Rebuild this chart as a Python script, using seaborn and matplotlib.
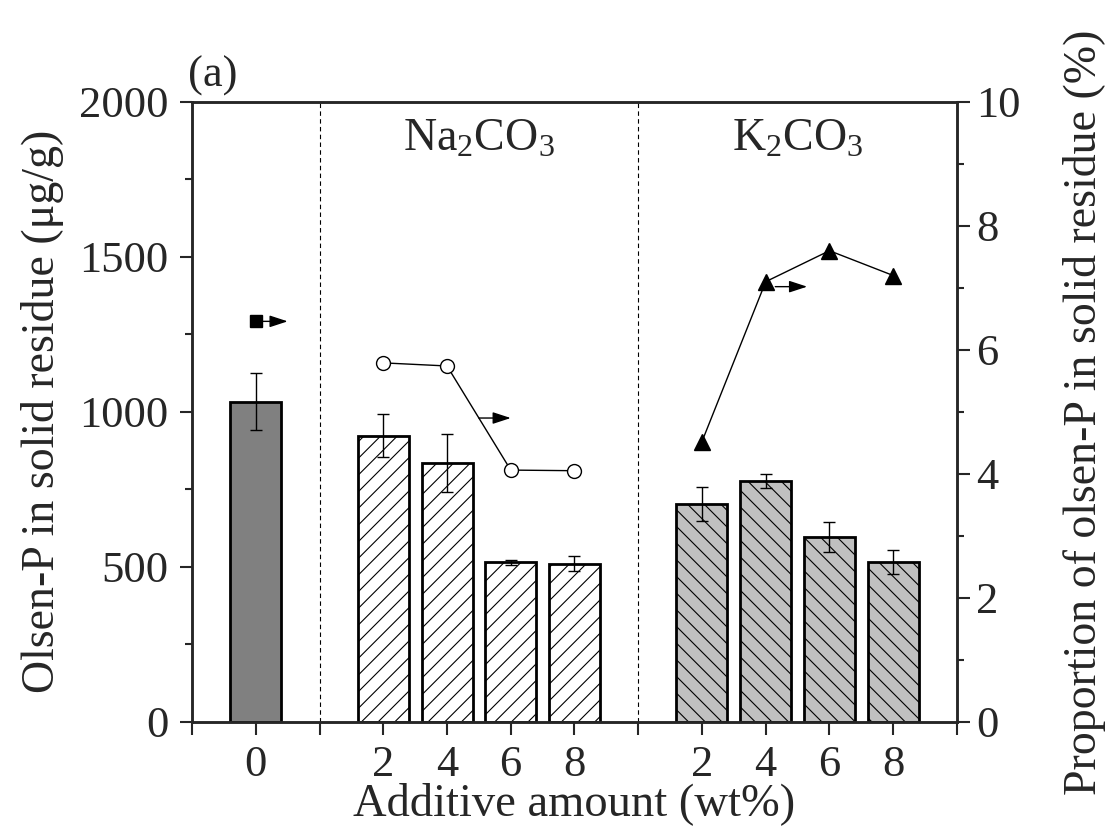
import numpy as np
import seaborn as sns
import matplotlib.pyplot as plt
from matplotlib.ticker import MultipleLocator

# data
ctrl_amount = ["0"]
ctrl_olsen = [1033]
ctrl_err = [93]
ctrl_prop = [6.46]

na_amount = ["2", "4", "6", "8"]
na_olsen = [923, 834, 514, 510]
na_err = [70, 93, 7, 25]
na_prop = [5.79, 5.74, 4.06, 4.05]

k_amount = ["2", "4", "6", "8"]
k_olsen = [704, 777, 596, 515]
k_err = [55, 22, 47, 39]
k_prop = [4.52, 7.10, 7.60, 7.20]

# group placement on the x axis
ctrl_x = np.array([1])
na_x = np.arange(3, 7)
k_x = np.arange(8, 12)

sns.set_style("ticks")
plt.rcParams['font.family'] = ['Liberation Serif', 'DejaVu Serif']
plt.rcParams['mathtext.fontset'] = 'custom'
plt.rcParams['mathtext.rm'] = 'Liberation Serif'
plt.rcParams['mathtext.it'] = 'Liberation Serif:italic'
plt.rcParams['hatch.linewidth'] = 0.8

fig, ax = plt.subplots(figsize=(11.05, 8.38), dpi=100)
fig.subplots_adjust(left=0.1738, right=0.866, bottom=0.1388, top=0.8783)

bar_kw = dict(native_scale=True, errorbar=None, saturation=1, edgecolor='black', linewidth=2, ax=ax)
sns.barplot(x=ctrl_x, y=ctrl_olsen, color='#808080', **bar_kw)
sns.barplot(x=na_x, y=na_olsen, color='white', hatch='//', **bar_kw)
sns.barplot(x=k_x, y=k_olsen, color='#c0c0c0', hatch='\\\\', **bar_kw)

err_kw = dict(fmt='none', ecolor='black', elinewidth=1, capsize=4.5, capthick=1, zorder=5)
ax.errorbar(ctrl_x, ctrl_olsen, yerr=ctrl_err, **err_kw)
ax.errorbar(na_x, na_olsen, yerr=na_err, **err_kw)
ax.errorbar(k_x, k_olsen, yerr=k_err, **err_kw)

# group separators
for xs in [2, 7]:
    ax.axvline(xs, color='black', lw=0.8, ls=(0, (4, 3)), zorder=0)

ax.set_xlim(0, 12)
ax.set_ylim(0, 2000)
ax.yaxis.set_major_locator(MultipleLocator(500))
ax.yaxis.set_minor_locator(MultipleLocator(250))
labels = [''] * 13
for xs, lab in zip(ctrl_x, ctrl_amount):
    labels[xs] = lab
for xs, lab in zip(na_x, na_amount):
    labels[xs] = lab
for xs, lab in zip(k_x, k_amount):
    labels[xs] = lab
ax.set_xticks(range(13))
ax.set_xticklabels(labels)
ax.tick_params(axis='both', which='major', labelsize=32, width=1.5, length=9, direction='out', pad=8)
ax.tick_params(axis='x', pad=8)
ax.tick_params(axis='y', which='minor', width=1.5, length=5)
ax.set_xlabel('Additive amount (wt%)', fontsize=33.5, labelpad=-2)
ax.set_ylabel('Olsen-P in solid residue (μg/g)', fontsize=33, labelpad=11)
for sp in ax.spines.values():
    sp.set_linewidth(1.8)

# right axis: proportion
ax2 = ax.twinx()
line_kw = dict(color='black', linewidth=1, markeredgecolor='black', markeredgewidth=1, ax=ax2)
sns.lineplot(x=ctrl_x, y=ctrl_prop, marker='s', markersize=8.5, markerfacecolor='black', **line_kw)
sns.lineplot(x=na_x, y=na_prop, marker='o', markersize=10, markerfacecolor='white', **line_kw)
sns.lineplot(x=k_x, y=k_prop, marker='^', markersize=12, markerfacecolor='black', **line_kw)

arrow = dict(arrowstyle='-|>,head_length=0.55,head_width=0.18', color='black', lw=1,
             mutation_scale=20, shrinkA=0, shrinkB=0)
ax2.annotate('', xy=(ctrl_x[0] + 0.5, ctrl_prop[0]), xytext=(ctrl_x[0] + 0.1, ctrl_prop[0]), arrowprops=arrow)
mx = (na_x[1] + na_x[2]) / 2
my = (na_prop[1] + na_prop[2]) / 2
ax2.annotate('', xy=(mx + 0.5, my), xytext=(mx, my), arrowprops=arrow)
ax2.annotate('', xy=(k_x[1] + 0.65, k_prop[1] - 0.08), xytext=(k_x[1] + 0.15, k_prop[1] - 0.08), arrowprops=arrow)

ax2.set_ylim(0, 10)
ax2.yaxis.set_major_locator(MultipleLocator(2))
ax2.yaxis.set_minor_locator(MultipleLocator(1))
ax2.tick_params(axis='y', which='major', labelsize=32, width=1.5, length=9, direction='out', pad=5)
ax2.tick_params(axis='y', which='minor', width=1.5, length=5)
ax2.set_ylabel('Proportion of olsen-P in solid residue (%)', fontsize=33, labelpad=30)
for sp in ax2.spines.values():
    sp.set_linewidth(1.8)

ax.text(na_x.mean(), 0.94, 'Na$_2$CO$_3$', transform=ax.get_xaxis_transform(), ha='center', va='center', fontsize=33)
ax.text(k_x.mean(), 0.94, 'K$_2$CO$_3$', transform=ax.get_xaxis_transform(), ha='center', va='center', fontsize=33)
ax.text(-0.005, 1.01, '(a)', transform=ax.transAxes, ha='left', va='bottom', fontsize=32)

fig.savefig('out.png', dpi=100)
